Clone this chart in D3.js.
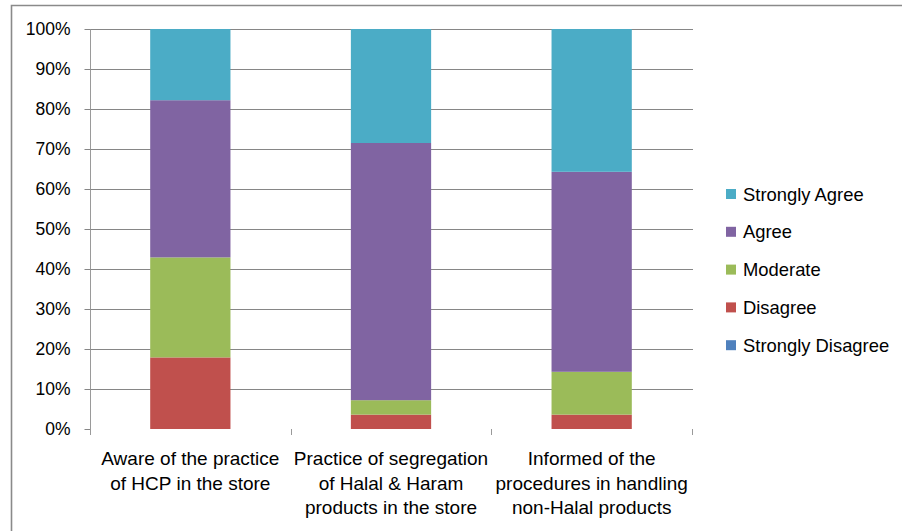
<!DOCTYPE html>
<html>
<head>
<meta charset="utf-8">
<script src="https://cdn.jsdelivr.net/npm/d3@7"></script>
<style>
  html, body { margin: 0; padding: 0; background: #fff; }
  svg { display: block; font-family: "Liberation Sans", Arial, sans-serif; }
</style>
</head>
<body>
<svg id="chart" width="902" height="531"></svg>
<script>
// Survey statements (x categories), one line per array entry
const categories = [
  ["Aware of the practice", "of HCP in the store"],
  ["Practice of segregation", "of Halal & Haram", "products in the store"],
  ["Informed of the", "procedures in handling", "non-Halal products"]
];

// Response levels, stacked bottom to top
const levels = ["Strongly Disagree", "Disagree", "Moderate", "Agree", "Strongly Agree"];

// Share of respondents (%) per response level, one entry per statement
const stronglyDisagree = [0, 0, 0];
const disagree         = [17.9, 3.6, 3.6];
const moderate         = [25.0, 3.6, 10.7];
const agree            = [39.3, 64.3, 50.0];
const stronglyAgree    = [17.8, 28.5, 35.7];

const yTicks = [0, 10, 20, 30, 40, 50, 60, 70, 80, 90, 100];

const colors = {
  "Strongly Disagree": "#4F81BD",
  "Disagree": "#C0504D",
  "Moderate": "#9BBB59",
  "Agree": "#8064A2",
  "Strongly Agree": "#4BACC6"
};

const seriesValues = {
  "Strongly Disagree": stronglyDisagree,
  "Disagree": disagree,
  "Moderate": moderate,
  "Agree": agree,
  "Strongly Agree": stronglyAgree
};

const rows = categories.map((c, i) => {
  const r = { key: i };
  levels.forEach(l => { r[l] = seriesValues[l][i]; });
  return r;
});

const svg = d3.select("#chart");

// Outer frame (top and left edges)
svg.append("path")
  .attr("d", "M11.5,531 L11.5,5.5 L902,5.5")
  .attr("fill", "none")
  .attr("stroke", "#8a8a8a")
  .attr("stroke-width", 1.6);

const plot = { left: 90, right: 692, top: 29, bottom: 429 };

const x = d3.scaleBand()
  .domain(categories.map((c, i) => i))
  .range([plot.left, plot.right])
  .paddingInner(0.6)
  .paddingOuter(0.3);

const y = d3.scaleLinear().domain([0, 100]).range([plot.bottom, plot.top]);

// Horizontal gridlines
svg.append("g")
  .selectAll("line")
  .data(yTicks.filter(t => t > 0))
  .join("line")
  .attr("x1", plot.left)
  .attr("x2", plot.right + 1)
  .attr("y1", d => Math.round(y(d)) + 0.5)
  .attr("y2", d => Math.round(y(d)) + 0.5)
  .attr("stroke", "#868686")
  .attr("stroke-width", 1);

// Y axis
const yAxis = svg.append("g")
  .attr("transform", `translate(${plot.left + 0.5},0)`)
  .call(d3.axisLeft(y).tickValues(yTicks).tickFormat(d => d + "%").tickSize(6).tickPadding(14));
yAxis.select(".domain").attr("stroke", "#9a9a9a").attr("d", `M0,${plot.top}V${plot.bottom + 6}`);
yAxis.selectAll(".tick line").attr("stroke", "#868686");
yAxis.selectAll(".tick text")
  .attr("font-size", 17.5)
  .attr("fill", "#000")
  .attr("font-family", "Liberation Sans, Arial, sans-serif");

// Stacked bars
const stack = d3.stack().keys(levels);
const layers = stack(rows);

svg.append("g")
  .selectAll("g")
  .data(layers)
  .join("g")
  .attr("fill", d => colors[d.key])
  .selectAll("rect")
  .data(d => d)
  .join("rect")
  .attr("x", d => x(d.data.key))
  .attr("width", x.bandwidth())
  .attr("y", d => y(d[1]))
  .attr("height", d => Math.max(0, y(d[0]) - y(d[1])));

// X axis tick marks at category boundaries (no baseline)
const step = (plot.right - plot.left) / categories.length;
const boundaries = d3.range(categories.length + 1).map(i => plot.left + i * step);
svg.append("g")
  .selectAll("line")
  .data(boundaries)
  .join("line")
  .attr("x1", d => Math.round(d) + 0.5)
  .attr("x2", d => Math.round(d) + 0.5)
  .attr("y1", plot.bottom)
  .attr("y2", plot.bottom + 6)
  .attr("stroke", "#9a9a9a");

// Category labels
const lab = svg.append("g")
  .selectAll("text")
  .data(categories)
  .join("text")
  .attr("text-anchor", "middle")
  .attr("font-size", 19)
  .attr("fill", "#000")
  .attr("transform", (d, i) => `translate(${x(i) + x.bandwidth() / 2},0)`);
lab.selectAll("tspan")
  .data(d => d)
  .join("tspan")
  .attr("x", 0)
  .attr("y", (d, j) => 465 + j * 24.5)
  .text(d => d);

// Legend (top entry = top of stack)
const legendItems = levels.slice().reverse();
const legend = svg.append("g")
  .selectAll("g")
  .data(legendItems)
  .join("g")
  .attr("transform", (d, i) => `translate(726,${194 + i * 37.8})`);
legend.append("rect")
  .attr("x", 0)
  .attr("y", -5)
  .attr("width", 10)
  .attr("height", 10)
  .attr("fill", d => colors[d]);
legend.append("text")
  .attr("x", 17)
  .attr("y", 6.5)
  .attr("font-size", 18.4)
  .attr("fill", "#000")
  .text(d => d);
</script>
</body>
</html>
